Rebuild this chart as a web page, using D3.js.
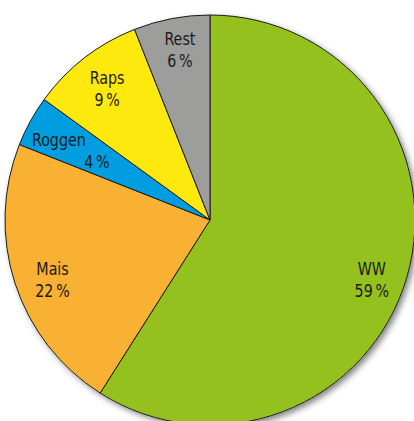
<!DOCTYPE html>
<html>
<head>
<meta charset="utf-8">
<script src="https://cdn.jsdelivr.net/npm/d3@7"></script>
<style>
  html, body { margin: 0; padding: 0; background: #fff; }
  svg { display: block; }
</style>
</head>
<body>
<svg id="chart" width="414" height="421"></svg>
<script>
// Anbaufläche nach Kultur (Anteile in %)
const categories = ["WW", "Mais", "Roggen", "Raps", "Rest"];
const shares = [59, 22, 4, 9, 6];
const colors = ["#95c11f", "#f8b133", "#009ee0", "#fde90d", "#9d9d9c"];

// Label placement: angle (deg, clockwise from 12 o'clock) and radius fraction
const labelLayout = {
  WW:     { angle: 110, r: 0.84 },
  Mais:   { angle: 249.5, r: 0.82 },
  Roggen: { angle: 298, r: 0.73, dx1: -19, dx2: 19 },
  Raps:   { angle: 322, r: 0.815 },
  Rest:   { angle: 350, r: 0.845 }
};

const cx = 210, cy = 220, R = 205;
const svg = d3.select("#chart");

const defs = svg.append("defs");
const f = defs.append("filter").attr("id", "shadow")
  .attr("x", "-10%").attr("y", "-10%").attr("width", "120%").attr("height", "120%");
f.append("feDropShadow")
  .attr("dx", 3).attr("dy", 3).attr("stdDeviation", 3)
  .attr("flood-color", "#000").attr("flood-opacity", 0.5);

const data = categories.map((c, i) => ({ cat: c, value: shares[i], color: colors[i] }));

const pie = d3.pie().sort(null).value(d => d.value);
const arc = d3.arc().innerRadius(0).outerRadius(R);

const g = svg.append("g").attr("transform", `translate(${cx},${cy})`);

// shadow underlay
g.append("circle").attr("r", R).attr("fill", "#fff").attr("filter", "url(#shadow)");

g.selectAll("path.slice")
  .data(pie(data))
  .join("path")
  .attr("class", "slice")
  .attr("d", arc)
  .attr("fill", d => d.data.color)
  .attr("stroke", "#1a1a1a")
  .attr("stroke-width", 1)
  .attr("stroke-linejoin", "round");

const font = "'Liberation Sans Narrow', 'DejaVu Sans Condensed', 'Open Sans', sans-serif";
const labels = g.selectAll("g.lbl")
  .data(pie(data))
  .join("g")
  .attr("class", "lbl")
  .attr("transform", d => {
    const L = labelLayout[d.data.cat];
    const a = L.angle * Math.PI / 180;
    return `translate(${L.r * R * Math.sin(a)},${-L.r * R * Math.cos(a)})`;
  });

// condensed lettering
const inner = labels.append("g").attr("transform", "scale(0.88,1)");

inner.append("text")
  .attr("x", d => (labelLayout[d.data.cat].dx1 || 0) / 0.88)
  .attr("y", -4)
  .attr("text-anchor", "middle")
  .attr("font-family", font)
  .attr("font-size", 18)
  .attr("fill", "#1a1a1a")
  .text(d => d.data.cat);

inner.append("text")
  .attr("x", d => (labelLayout[d.data.cat].dx2 || 0) / 0.88)
  .attr("y", 18)
  .attr("text-anchor", "middle")
  .attr("font-family", font)
  .attr("font-size", 18)
  .attr("fill", "#1a1a1a")
  .text(d => d.data.value + "\u2009%");
</script>
</body>
</html>
